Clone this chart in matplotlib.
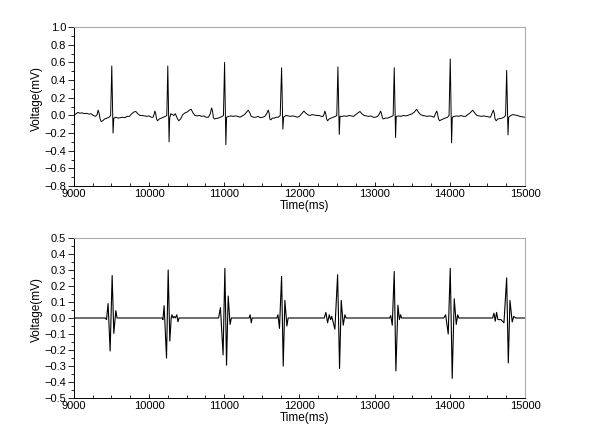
import matplotlib
matplotlib.use('Agg')
import matplotlib.pyplot as plt
from matplotlib.ticker import MultipleLocator, FuncFormatter

plt.rcParams['font.family'] = ['Liberation Sans', 'DejaVu Sans']

# raw ECG trace (ms, mV)
ecg_t = [9000, 9030, 9057, 9080, 9110, 9140, 9170, 9200, 9230, 9260, 9290, 9310, 9323, 9335, 9350, 9365,
         9385, 9410, 9440, 9470, 9490, 9505, 9522, 9532, 9560, 9590, 9620, 9650, 9680, 9710, 9740, 9770,
         9800, 9825, 9850, 9880, 9910, 9940, 9970, 10000, 10030, 10055, 10070, 10078, 10090, 10100, 10115,
         10135, 10165, 10190, 10220, 10237, 10250, 10267, 10275, 10290, 10310, 10330, 10350, 10375, 10395,
         10420, 10450, 10480, 10510, 10535, 10560, 10585, 10610, 10640, 10670, 10700, 10730, 10760, 10790,
         10815, 10832, 10845, 10855, 10870, 10890, 10920, 10950, 10975, 10990, 11005, 11022, 11032, 11060,
         11090, 11120, 11150, 11180, 11210, 11240, 11270, 11300, 11319, 11340, 11360, 11390, 11420, 11450,
         11480, 11510, 11540, 11565, 11585, 11597, 11607, 11620, 11640, 11665, 11690, 11720, 11745, 11763,
         11780, 11790, 11820, 11850, 11880, 11910, 11940, 11970, 12000, 12030, 12060, 12080, 12110, 12140,
         12170, 12200, 12230, 12260, 12290, 12315, 12330, 12339, 12350, 12362, 12375, 12395, 12420, 12450,
         12480, 12497, 12512, 12530, 12540, 12570, 12600, 12630, 12660, 12690, 12720, 12750, 12780, 12805,
         12830, 12860, 12890, 12920, 12950, 12980, 13010, 13040, 13065, 13080, 13092, 13105, 13120, 13140,
         13170, 13200, 13230, 13247, 13261, 13279, 13288, 13320, 13350, 13380, 13410, 13440, 13470, 13500,
         13530, 13559, 13580, 13610, 13640, 13670, 13700, 13730, 13760, 13790, 13810, 13825, 13837, 13850,
         13865, 13885, 13910, 13940, 13970, 13990, 14006, 14024, 14033, 14060, 14090, 14120, 14150, 14180,
         14210, 14240, 14270, 14304, 14330, 14360, 14390, 14420, 14450, 14480, 14510, 14540, 14560, 14578,
         14590, 14602, 14617, 14637, 14665, 14695, 14720, 14742, 14756, 14774, 14783, 14810, 14840, 14870,
         14900, 14930, 14960, 15000]
ecg_v = [0.00, 0.02, 0.035, 0.025, 0.03, 0.02, 0.025, 0.015, 0.02, 0.00, -0.01, 0.01, 0.06, 0.03, -0.04, -0.07,
         -0.06, -0.04, -0.03, -0.02, 0.0, 0.56, -0.20, -0.03, -0.02, -0.03, -0.025, -0.02, -0.025, -0.01, -0.01, 0.02,
         0.04, 0.045, 0.02, 0.0, 0.0, -0.005, -0.01, -0.005, -0.02, -0.02, 0.02, 0.05, 0.02, -0.04, -0.06,
         -0.04, -0.03, -0.02, -0.01, 0.0, 0.56, -0.30, -0.03, 0.02, 0.01, 0.0, 0.02, -0.03, -0.06,
         -0.04, 0.01, 0.03, 0.04, 0.06, 0.07, 0.03, 0.0, -0.005, 0.0, -0.01, -0.005, -0.02, -0.02,
         0.02, 0.085, 0.05, -0.02, -0.04, -0.035, -0.03, -0.02, -0.01, 0.0, 0.60, -0.33, -0.02, -0.01,
         -0.005, -0.01, -0.005, -0.01, -0.02, -0.005, 0.01, 0.04, 0.06, 0.03, -0.01, -0.02, -0.02, -0.01,
         -0.025, -0.02, -0.01, 0.02, 0.06, 0.03, -0.04, -0.05, -0.03, -0.03, -0.02, -0.02, 0.0, 0.54,
         -0.155, -0.02, 0.0, -0.005, -0.01, -0.005, -0.01, -0.02, -0.01, 0.02, 0.05, 0.03, 0.01, 0.0,
         0.01, 0.005, 0.0, 0.0, -0.01, -0.01, 0.02, 0.05, 0.02, -0.04, -0.06, -0.04, -0.03, -0.02,
         -0.01, 0.0, 0.55, -0.215, -0.01, -0.01, -0.005, -0.01, 0.0, -0.005, -0.01, 0.01, 0.03, 0.045,
         0.02, 0.0, -0.005, -0.01, -0.005, -0.02, -0.02, -0.01, 0.02, 0.05, 0.02, -0.03, -0.04, -0.03,
         -0.03, -0.02, -0.01, 0.0, 0.54, -0.25, -0.01, -0.005, -0.01, 0.0, -0.005, 0.0, 0.01, 0.02,
         0.04, 0.07, 0.04, 0.01, 0.0, -0.005, -0.01, -0.005, -0.01, -0.02, 0.02, 0.05, 0.02, -0.04,
         -0.06, -0.05, -0.04, -0.03, -0.02, 0.0, 0.64, -0.31, -0.02, -0.01, -0.005, -0.01, 0.0, -0.01,
         -0.01, 0.01, 0.03, 0.06, 0.03, 0.0, -0.005, -0.01, -0.005, -0.01, -0.015, -0.02, 0.02, 0.06,
         0.03, -0.04, -0.06, -0.04, -0.035, -0.03, -0.02, 0.0, 0.51, -0.22, -0.02, 0.0, 0.01, 0.005,
         0.0, -0.01, -0.015, -0.02]

# filtered signal (ms, mV)
filt_t = [9000, 9420, 9435, 9456, 9483, 9510, 9532, 9559, 9575,
          10175, 10185, 10201, 10233, 10255, 10277, 10295, 10305, 10320, 10335, 10350, 10370, 10385, 10400,
          10925, 10950, 10985, 11009, 11031, 11053, 11078, 11095,
          11330, 11345, 11360, 11372,
          11700, 11715, 11735, 11763, 11785, 11807, 11834, 11850,
          12330, 12352, 12375, 12397, 12415, 12430, 12472, 12508, 12534, 12556, 12583, 12605, 12620,
          13200, 13215, 13235, 13261, 13283, 13310, 13330, 13345, 13360,
          13920, 13945, 13979, 14006, 14032, 14059, 14086, 14105, 14120,
          14569, 14587, 14604, 14622, 14640, 14680, 14720, 14756, 14778, 14800, 14830, 14850, 14876,
          15000]
filt_v = [0, 0, -0.01, 0.09, -0.206, 0.265, -0.096, 0.046, 0,
          0, -0.01, 0.077, -0.25, 0.30, -0.144, 0.0, 0.02, 0.0, 0.01, 0.0, 0.02, -0.023, 0.0,
          0, 0.065, -0.23, 0.31, -0.294, 0.137, -0.04, 0,
          0, 0.02, -0.03, 0,
          0, 0.02, -0.065, 0.26, -0.30, 0.11, -0.05, 0,
          0, 0.035, -0.03, 0.02, -0.01, 0.01, -0.07, 0.27, -0.315, 0.11, -0.045, 0.02, 0,
          0, 0.015, -0.045, 0.29, -0.33, 0.08, -0.01, 0.02, 0,
          0, 0.02, -0.10, 0.31, -0.377, 0.12, -0.04, 0.02, 0,
          0, 0.03, -0.02, 0.035, -0.01, -0.01, -0.03, 0.25, -0.28, 0.11, -0.025, 0.01, 0,
          0]

fig = plt.figure(figsize=(6, 4.24), dpi=100)
ax1 = fig.add_axes([0.123, 0.561, 0.752, 0.375])
ax2 = fig.add_axes([0.123, 0.061, 0.752, 0.378])

ax1.plot(ecg_t, ecg_v, color='black', lw=0.7)
ax2.plot(filt_t, filt_v, color='black', lw=0.8)

minus = FuncFormatter(lambda v, p: ('%.1f' % v).replace('-', '\u2212'))

for ax, lo, hi, step in [(ax1, -0.8, 1.0, 0.2), (ax2, -0.5, 0.5, 0.1)]:
    ax.set_xlim(9000, 15000)
    ax.set_ylim(lo, hi)
    ax.xaxis.set_major_locator(MultipleLocator(1000))
    ax.xaxis.set_minor_locator(MultipleLocator(250))
    ax.yaxis.set_major_locator(MultipleLocator(step))
    ax.yaxis.set_minor_locator(MultipleLocator(step / 2))
    ax.yaxis.set_major_formatter(minus)
    ax.tick_params(axis='y', which='major', labelsize=8, length=4, width=0.6, pad=1.5)
    ax.tick_params(axis='y', which='minor', length=2.5, width=0.6)
    ax.tick_params(axis='x', which='major', direction='in', labelsize=8, length=3, width=0.6, pad=2)
    ax.tick_params(axis='x', which='minor', direction='in', length=2.5, width=0.6)
    ax.spines['left'].set_linewidth(0.7)
    ax.spines['bottom'].set_linewidth(0.7)
    ax.spines['top'].set_color('#aaaaaa')
    ax.spines['right'].set_color('#aaaaaa')
    ax.set_xlabel('Time(ms)', fontsize=8.5, labelpad=1)
    ax.xaxis.label.set_x(0.512)
    ax.set_ylabel('Voltage(mV)', fontsize=8.5)
    ax.yaxis.set_label_coords(-0.068, 0.55)

fig.savefig('out.png', dpi=100)
